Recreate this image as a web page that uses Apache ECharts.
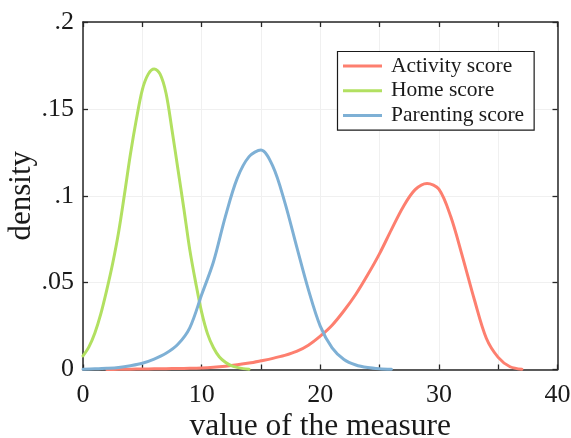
<!DOCTYPE html>
<html>
<head>
<meta charset="utf-8">
<script src="https://cdn.jsdelivr.net/npm/echarts@6/dist/echarts.min.js"></script>
<style>
  html, body { margin: 0; padding: 0; background: #ffffff; }
  #chart { width: 571px; height: 438px; }
</style>
</head>
<body>
<div id="chart"></div>
<script>
// Estimated density curves for the three scores
const activityX = [2, 3, 4, 5, 6, 7, 8, 9, 10, 11, 12, 13, 14, 15, 16, 17, 18, 19, 20, 21, 22, 23, 24, 25, 26, 27, 28, 29, 30, 31, 32, 33, 34, 35, 36, 37];
const activityY = [0, 0.0001, 0.0002, 0.0003, 0.0004, 0.0005, 0.0006, 0.0007, 0.0009, 0.0013, 0.0019, 0.0027, 0.0037, 0.0050, 0.0064, 0.0081, 0.0104, 0.0140, 0.0192, 0.0255, 0.0338, 0.0433, 0.0545, 0.0667, 0.0805, 0.0937, 0.1035, 0.1071, 0.1038, 0.0880, 0.0647, 0.0400, 0.0180, 0.0070, 0.0016, 0.0002];

const homeX = [0, 0.5, 1, 1.5, 2, 2.5, 3, 3.5, 4, 4.5, 5, 5.5, 6, 6.5, 7, 7.5, 8, 8.5, 9, 9.5, 10, 10.5, 11, 11.5, 12, 12.5, 13, 13.5, 14];
const homeY = [0.0078, 0.013, 0.021, 0.032, 0.0457, 0.061, 0.079, 0.101, 0.124, 0.144, 0.161, 0.170, 0.173, 0.170, 0.159, 0.138, 0.1154, 0.0927, 0.069, 0.050, 0.033, 0.0205, 0.0125, 0.0072, 0.0042, 0.0022, 0.0012, 0.0005, 0.0002];

const parentingX = [0, 1, 2, 3, 4, 5, 6, 7, 8, 9, 10, 11, 12, 13, 14, 15, 16, 17, 18, 19, 20, 21, 22, 23, 24, 25, 26];
const parentingY = [0.0002, 0.0004, 0.0007, 0.0012, 0.0022, 0.0036, 0.006, 0.0093, 0.0145, 0.024, 0.043, 0.062, 0.088, 0.110, 0.1225, 0.1263, 0.117, 0.0965, 0.071, 0.046, 0.025, 0.0125, 0.0058, 0.0026, 0.0011, 0.0004, 0.0001];

const seriesNames = ['Activity score', 'Home score', 'Parenting score'];
const seriesColors = ['#fd7f6f', '#b2e061', '#7eb0d5'];

const xTickLabels = ['0', '10', '20', '30', '40'];
const yTickLabels = ['0', '.05', '.1', '.15', '.2'];

const pairs = (xs, ys) => xs.map((x, i) => [x, ys[i]]);

const FONT = '"Liberation Serif", "DejaVu Serif", serif';
const AXIS_COLOR = '#262626';
const TEXT_COLOR = '#1a1a1a';

const chart = echarts.init(document.getElementById('chart'), null, { renderer: 'canvas' });

const xLabel = v => {
  const i = Math.round(v / 10);
  return (Math.abs(v - i * 10) < 1e-6 && xTickLabels[i] !== undefined) ? xTickLabels[i] : '';
};
const yLabel = v => {
  const i = Math.round(v / 0.05);
  return yTickLabels[i] !== undefined ? yTickLabels[i] : '';
};

const boxAxisLine = { show: true, onZero: false, lineStyle: { color: AXIS_COLOR, width: 1.5 } };
const boxTick = { show: true, inside: true, length: 5, lineStyle: { color: AXIS_COLOR, width: 1.3 } };

chart.setOption({
  backgroundColor: '#ffffff',
  animation: false,
  grid: { left: 83, right: 13.5, top: 22, bottom: 68.5, containLabel: false, outerBoundsMode: 'none' },
  legend: {
    data: seriesNames,
    orient: 'vertical',
    left: 337.5,
    top: 51.5,
    padding: [3.5, 10, 3.5, 5.5],
    itemWidth: 39,
    itemHeight: 3,
    itemGap: 2.8,
    borderColor: '#1a1a1a',
    borderWidth: 1.2,
    borderRadius: 0,
    backgroundColor: '#ffffff',
    icon: 'rect',
    textStyle: { fontFamily: FONT, fontSize: 21.5, lineHeight: 22, color: TEXT_COLOR, padding: [0, 0, 0, 4] }
  },
  xAxis: [
    {
      type: 'value', min: 0, max: 40, interval: 5,
      name: 'value of the measure', nameLocation: 'middle', nameGap: 41, nameMoveOverlap: false,
      nameTextStyle: { fontFamily: FONT, fontSize: 31.5, color: TEXT_COLOR },
      axisLine: boxAxisLine,
      axisTick: boxTick,
      axisLabel: { formatter: xLabel, margin: 12.5, fontFamily: FONT, fontSize: 26, color: TEXT_COLOR, showMinLabel: true, showMaxLabel: true },
      splitLine: { show: true, lineStyle: { color: '#f0f0f0', width: 1 } }
    },
    {
      type: 'value', min: 0, max: 40, interval: 5, position: 'top',
      axisLine: boxAxisLine,
      axisTick: boxTick,
      axisLabel: { show: false },
      splitLine: { show: false }
    }
  ],
  yAxis: [
    {
      type: 'value', min: 0, max: 0.2, interval: 0.05,
      name: 'density', nameLocation: 'middle', nameGap: 46, nameRotate: 90, nameMoveOverlap: false,
      nameTextStyle: { fontFamily: FONT, fontSize: 31, color: TEXT_COLOR },
      axisLine: boxAxisLine,
      axisTick: boxTick,
      axisLabel: { formatter: yLabel, margin: 9, fontFamily: FONT, fontSize: 26, color: TEXT_COLOR, showMinLabel: true, showMaxLabel: true },
      splitLine: { show: true, lineStyle: { color: '#f0f0f0', width: 1 } }
    },
    {
      type: 'value', min: 0, max: 0.2, interval: 0.05, position: 'right',
      axisLine: boxAxisLine,
      axisTick: boxTick,
      axisLabel: { show: false },
      splitLine: { show: false }
    }
  ],
  series: [
    { name: seriesNames[0], data: pairs(activityX, activityY), color: seriesColors[0] },
    { name: seriesNames[1], data: pairs(homeX, homeY), color: seriesColors[1] },
    { name: seriesNames[2], data: pairs(parentingX, parentingY), color: seriesColors[2] }
  ].map(s => ({
    type: 'line',
    name: s.name,
    data: s.data,
    xAxisIndex: 0,
    yAxisIndex: 0,
    smooth: 0.33,
    symbol: 'none',
    showSymbol: false,
    clip: true,
    itemStyle: { color: s.color },
    lineStyle: { color: s.color, width: 3, cap: 'round', join: 'round' },
    emphasis: { disabled: true }
  }))
});
</script>
</body>
</html>
